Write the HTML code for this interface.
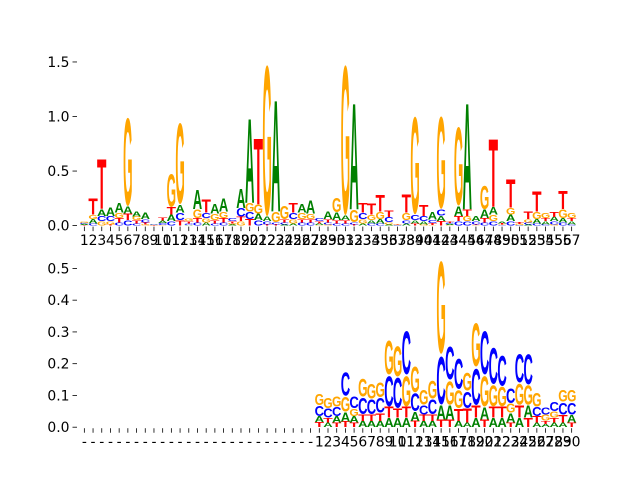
<!DOCTYPE html>
<html><head><meta charset="utf-8"><style>
html,body{margin:0;padding:0;background:#fff;}
svg{display:block;}
text{font-family:"DejaVu Sans","Liberation Sans",sans-serif;}
.g{font-family:"Liberation Sans",sans-serif;font-weight:bold;}
</style></head><body>
<svg id="chart" width="640" height="480" viewBox="0 0 640 480" xmlns="http://www.w3.org/2000/svg">
<g id="top"></g>
<g id="bot"></g>
</svg>
<script>
// Top logo data (57 positions)
const topA=[.01,.04,.06,.08,.09,.065,.05,.06,.005,.025,.06,.075,.005,.18,.03,.09,.12,.01,.18,.79,.06,.04,1.05,.01,.02,.08,.12,.015,.07,.07,.04,1.0,.02,.03,.04,.01,.003,.02,.03,.03,.07,.05,.01,.09,1.0,.05,.08,.07,.015,.06,.003,.01,.04,.03,.04,.04,.03];
const topC=[.01,.02,.05,.05,.03,.05,.02,.03,.004,.02,.04,.07,.015,.03,.05,.02,.03,.03,.08,.07,.05,.03,.02,.02,.06,.03,.03,.03,.02,.02,.02,.02,.06,.02,.02,.05,.003,.03,.05,.05,.03,.06,.01,.04,.04,.03,.03,.04,.005,.04,.003,.02,.02,.01,.03,.03,.01];
const topG=[.01,.04,.04,.03,.05,.86,.035,.01,.003,.003,.32,.79,.025,.08,.04,.06,.06,.01,.04,.08,.09,1.47,.1,.13,.04,.06,.05,.005,.01,.14,1.46,.12,.04,.05,.07,.02,.003,.07,.95,.01,.005,.9,.005,.76,.05,.005,.23,.06,.005,.065,.01,.03,.07,.05,.01,.08,.05];
const topT=[.005,.15,.47,.01,.04,.06,.03,.02,.003,.03,.07,.05,.02,.04,.12,.03,.04,.02,.04,.06,.62,.01,.01,.03,.09,.03,.03,.02,.03,.03,.03,.01,.09,.1,.16,.06,.003,.17,.02,.1,.02,.04,.01,.05,.06,.005,.04,.64,.01,.27,.015,.07,.19,.03,.05,.17,.03];
const topTicks=Array.from({length:57},(_,i)=>String(i+1));
const topYTicks=[0,0.5,1.0,1.5];
// Bottom logo data (first 27 positions are gaps)
const botA=[0,0,0,0,0,0,0,0,0,0,0,0,0,0,0,0,0,0,0,0,0,0,0,0,0,0,0,.018,.015,.02,.03,.02,.02,.02,.02,.03,.03,.03,.03,.02,.02,.045,.045,.02,.015,.03,.04,.03,.03,.03,.03,.04,.015,.01,.015,.015,.025];
const botC=[0,0,0,0,0,0,0,0,0,0,0,0,0,0,0,0,0,0,0,0,0,0,0,0,0,0,0,.035,.03,.03,.08,.04,.055,.05,.05,.1,.1,.145,.06,.03,.05,.16,.11,.1,.055,.12,.145,.12,.1,.05,.095,.1,.03,.025,.03,.04,.04];
const botG=[0,0,0,0,0,0,0,0,0,0,0,0,0,0,0,0,0,0,0,0,0,0,0,0,0,0,0,.037,.035,.035,.05,.025,.06,.05,.05,.115,.1,.1,.085,.05,.06,.31,.08,.06,.06,.145,.1,.07,.065,.03,.07,.065,.045,.02,.02,.04,.04];
const botT=[0,0,0,0,0,0,0,0,0,0,0,0,0,0,0,0,0,0,0,0,0,0,0,0,0,0,0,.017,.015,.015,.018,.015,.02,.02,.025,.035,.03,.035,.02,.02,.02,.025,.025,.04,.045,.04,.025,.035,.035,.015,.04,.03,.02,.01,.015,.025,.015];
const botTicks=Array.from({length:57},(_,i)=>i<27?'-':String(i-26));
const botYTicks=[0,0.1,0.2,0.3,0.4,0.5];

const NS='http://www.w3.org/2000/svg';
const COLORS={A:'#008000',C:'#0000ff',G:'#ffa500',T:'#ff0000'};
const GLYPH={A:{top:71.6,bot:0},C:{top:74,bot:1.3},G:{top:74,bot:1.3},T:{top:71.6,bot:0}};
const AX_L=80,AX_R=576,N=57;
function xc(i){return AX_L+(i+0.5)*(AX_R-AX_L)/N;}
const colW=(AX_R-AX_L)/N;

function panel(gid,A,C,G,T,ticks,yticks,y0,y1,ymax,pname){
  const g=document.getElementById(gid);
  const ys=v=>y0-(v/ymax)*(y0-y1);
  yticks.forEach(v=>{
    const y=ys(v);
    const l=document.createElementNS(NS,'line');
    l.setAttribute('x1',AX_L-7.5);l.setAttribute('x2',AX_L-3);l.setAttribute('y1',y);l.setAttribute('y2',y);
    l.setAttribute('stroke','#000');l.setAttribute('stroke-width','0.8');
    
    
    g.appendChild(l);
    const t=document.createElementNS(NS,'text');
    t.setAttribute('x',AX_L-10.5);t.setAttribute('y',y+5);t.setAttribute('text-anchor','end');t.setAttribute('font-size','13.9');
    t.textContent=v.toFixed(1);
    
    
    g.appendChild(t);
  });
  ticks.forEach((lab,i)=>{
    const x=xc(i);
    const l=document.createElementNS(NS,'line');
    l.setAttribute('x1',x);l.setAttribute('x2',x);l.setAttribute('y1',y0+1);l.setAttribute('y2',y0+5.5);
    l.setAttribute('stroke','#000');l.setAttribute('stroke-width','0.8');
    
    
    g.appendChild(l);
    const t=document.createElementNS(NS,'text');
    t.setAttribute('x',x);t.setAttribute('y',y0+19.5);t.setAttribute('text-anchor','middle');t.setAttribute('font-size','13.9');
    t.textContent=lab;
    
    
    g.appendChild(t);
  });
  for(let i=0;i<N;i++){
    const items=[['A',A[i]],['C',C[i]],['G',G[i]],['T',T[i]]].filter(d=>d[1]>0).sort((a,b)=>a[1]-b[1]);
    let cum=0;
    const w=colW*1.08;
    const x0=xc(i)-w/2;
    items.forEach(([L,v])=>{
      const yb=ys(cum),yt=ys(cum+v);cum+=v;
      const h=yb-yt;
      const gm=GLYPH[L];
      const sy=h/(gm.top+gm.bot);
      const sx=w/100;
      const t=document.createElementNS(NS,'text');
      t.setAttribute('class','g');
      t.setAttribute('x','0');t.setAttribute('y','0');
      t.setAttribute('font-size','100');
      t.setAttribute('textLength','100');
      t.setAttribute('lengthAdjust','spacingAndGlyphs');
      t.setAttribute('fill',COLORS[L]);
      t.setAttribute('transform','translate('+x0+','+(yb-gm.bot*sy)+') scale('+sx+','+sy+')');
      t.textContent=L;
      
      
      g.appendChild(t);
    });
  }
}
panel('top',topA,topC,topG,topT,topTicks,topYTicks,225.6,57.6,1.54,'top');
panel('bot',botA,botC,botG,botT,botTicks,botYTicks,427.2,259.2,0.529,'bottom');
</script>
</body></html>
